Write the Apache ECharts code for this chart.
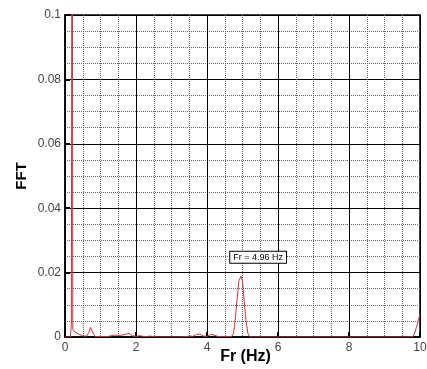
<!DOCTYPE html>
<html>
<head>
<meta charset="utf-8">
<script src="https://cdn.jsdelivr.net/npm/echarts@6/dist/echarts.min.js"></script>
<style>
  html, body { margin: 0; padding: 0; background: #fff; }
  #main { width: 427px; height: 369px; }
</style>
</head>
<body>
<div id="main"></div>
<script type="text/javascript">
    // spectrum (Hz, FFT amplitude)
    var freqs = [0, 0.15, 0.18, 0.2, 0.22, 0.25, 0.3, 0.4, 0.5, 0.6, 0.68, 0.72, 0.76, 0.8, 0.85, 0.9, 1.0, 1.1, 1.2, 1.3,
        1.4, 1.5, 1.6, 1.7, 1.8, 1.85, 1.9, 2.0, 2.1, 2.2, 2.3, 2.4, 2.5, 2.6, 2.8, 3.0, 3.2, 3.4, 3.5, 3.6,
        3.7, 3.8, 3.9, 4.0, 4.1, 4.2, 4.3, 4.4, 4.5, 4.6, 4.7, 4.75, 4.8, 4.85, 4.9, 4.96, 5.0, 5.05, 5.1, 5.15,
        5.2, 5.3, 5.5, 6.0, 6.5, 7.0, 7.5, 8.0, 8.5, 9.0, 9.5, 9.8, 9.85, 9.9, 9.95, 10];
    var fftVals = [0, 0, 0.004, 0.2, 0.0025, 0.0018, 0.0012, 0.0008, 0.0004, 0.0002, 0.0015, 0.003, 0.0028, 0.001, 0.0001, 0, 0.0001, 0.0002, 0.0001, 0.0004,
        0.0006, 0.0005, 0.0006, 0.0008, 0.0012, 0.0010, 0.0004, 0.0002, 0.0004, 0.0002, 0.0001, 0.0003, 0.0001, 0, 0, 0, 0, 0.0001, 0.0003, 0.0002,
        0.0008, 0.0009, 0.0003, 0.0002, 0.0008, 0.0006, 0.0002, 0.0001, 0.0001, 0.0001, 0.0002, 0.0012, 0.006, 0.012, 0.0175, 0.0189, 0.0172, 0.011, 0.005, 0.0012,
        0.0001, 0, 0, 0, 0, 0, 0, 0, 0, 0, 0, 0.0001, 0.0012, 0.003, 0.005, 0.0072];
    var peakLabel = 'Fr = 4.96 Hz';

    var lineData = freqs.map(function (f, i) { return [f, fftVals[i]]; });

    var myChart = echarts.init(document.getElementById('main'));
    var option = {
        animation: false,
        grid: {
            left: 65, right: 7, top: 15, bottom: 32,
            outerBoundsMode: 'none', containLabel: false,
            show: true, borderColor: '#000', borderWidth: 1.5
        },
        xAxis: {
            type: 'value', min: 0, max: 10, interval: 2,
            name: 'Fr (Hz)', nameLocation: 'middle', nameGap: 12, nameMoveOverlap: false,
            nameTextStyle: { fontFamily: 'Liberation Sans', fontWeight: 'bold', fontSize: 16, color: '#000', padding: [0, 0, 0, 6] },
            axisLine: { lineStyle: { color: '#000', width: 1.5 } },
            axisTick: { inside: true, length: 5, lineStyle: { color: '#000', width: 2 } },
            minorTick: { show: true, splitNumber: 4, length: 0 },
            axisLabel: { fontFamily: 'Liberation Sans', fontSize: 12, color: '#444', margin: 5 },
            splitLine: { lineStyle: { color: '#000', width: 1 } },
            minorSplitLine: { show: true, lineStyle: { color: '#666', type: [1, 1], width: 1 } }
        },
        yAxis: {
            type: 'value', min: 0, max: 0.1, interval: 0.02,
            name: 'FFT', nameLocation: 'middle', nameGap: 36, nameMoveOverlap: false,
            nameTextStyle: { fontFamily: 'Liberation Sans', fontWeight: 'bold', fontSize: 15, color: '#000' },
            axisLine: { lineStyle: { color: '#000', width: 1.5 } },
            axisTick: { inside: true, length: 5, lineStyle: { color: '#000', width: 2 } },
            minorTick: { show: true, splitNumber: 4, length: 0 },
            axisLabel: { fontFamily: 'Liberation Sans', fontSize: 12, color: '#444', margin: 4 },
            splitLine: { lineStyle: { color: '#000', width: 1 } },
            minorSplitLine: { show: true, lineStyle: { color: '#666', type: [1, 1], width: 1 } }
        },
        series: [{
            type: 'line',
            data: lineData,
            showSymbol: false,
            clip: true,
            lineStyle: { color: '#c43a3a', width: 1 },
            markPoint: {
                symbol: 'rect', symbolSize: 0,
                data: [{ coord: [5.44, 0.0248] }],
                label: {
                    show: true, position: 'inside', formatter: peakLabel,
                    fontFamily: 'Liberation Sans', fontSize: 9, color: '#000',
                    backgroundColor: '#fff', borderColor: '#000', borderWidth: 1, padding: [1, 3]
                }
            }
        }]
    };
    myChart.setOption(option);
</script>
</body>
</html>
